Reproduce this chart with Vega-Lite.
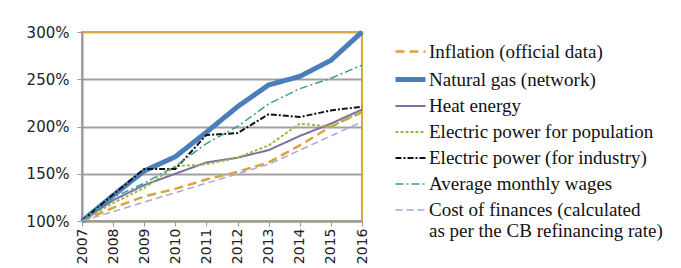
{
  "$schema": "https://vega.github.io/schema/vega-lite/v6.json",
  "width": 280,
  "height": 189,
  "autosize": {"type": "none"},
  "padding": {"left": 82, "top": 32, "right": 319, "bottom": 47},
  "background": "white",
  "config": {
    "view": {"stroke": "#D9A844", "strokeWidth": 2},
    "axis": {"labelFont": "DejaVu Sans", "labelColor": "#222"},
    "legend": {"labelFont": "Liberation Serif"}
  },
  "data": {
    "values": [
      {"year": "2007", "series": "Inflation (official data)", "v": 100},
      {"year": "2008", "series": "Inflation (official data)", "v": 114},
      {"year": "2009", "series": "Inflation (official data)", "v": 126},
      {"year": "2010", "series": "Inflation (official data)", "v": 134},
      {"year": "2011", "series": "Inflation (official data)", "v": 144},
      {"year": "2012", "series": "Inflation (official data)", "v": 152},
      {"year": "2013", "series": "Inflation (official data)", "v": 162},
      {"year": "2014", "series": "Inflation (official data)", "v": 180},
      {"year": "2015", "series": "Inflation (official data)", "v": 200},
      {"year": "2016", "series": "Inflation (official data)", "v": 215},
      {"year": "2007", "series": "Natural gas (network)", "v": 100},
      {"year": "2008", "series": "Natural gas (network)", "v": 127},
      {"year": "2009", "series": "Natural gas (network)", "v": 153},
      {"year": "2010", "series": "Natural gas (network)", "v": 168},
      {"year": "2011", "series": "Natural gas (network)", "v": 194},
      {"year": "2012", "series": "Natural gas (network)", "v": 221},
      {"year": "2013", "series": "Natural gas (network)", "v": 244},
      {"year": "2014", "series": "Natural gas (network)", "v": 253},
      {"year": "2015", "series": "Natural gas (network)", "v": 270},
      {"year": "2016", "series": "Natural gas (network)", "v": 300},
      {"year": "2007", "series": "Heat energy", "v": 100},
      {"year": "2008", "series": "Heat energy", "v": 122},
      {"year": "2009", "series": "Heat energy", "v": 138},
      {"year": "2010", "series": "Heat energy", "v": 150},
      {"year": "2011", "series": "Heat energy", "v": 162},
      {"year": "2012", "series": "Heat energy", "v": 167},
      {"year": "2013", "series": "Heat energy", "v": 175},
      {"year": "2014", "series": "Heat energy", "v": 190},
      {"year": "2015", "series": "Heat energy", "v": 203},
      {"year": "2016", "series": "Heat energy", "v": 218},
      {"year": "2007", "series": "Electric power for population", "v": 100},
      {"year": "2008", "series": "Electric power for population", "v": 119},
      {"year": "2009", "series": "Electric power for population", "v": 135},
      {"year": "2010", "series": "Electric power for population", "v": 158},
      {"year": "2011", "series": "Electric power for population", "v": 160},
      {"year": "2012", "series": "Electric power for population", "v": 167},
      {"year": "2013", "series": "Electric power for population", "v": 180},
      {"year": "2014", "series": "Electric power for population", "v": 203},
      {"year": "2015", "series": "Electric power for population", "v": 200},
      {"year": "2016", "series": "Electric power for population", "v": 216},
      {"year": "2007", "series": "Electric power (for industry)", "v": 100},
      {"year": "2008", "series": "Electric power (for industry)", "v": 128},
      {"year": "2009", "series": "Electric power (for industry)", "v": 155},
      {"year": "2010", "series": "Electric power (for industry)", "v": 155},
      {"year": "2011", "series": "Electric power (for industry)", "v": 191},
      {"year": "2012", "series": "Electric power (for industry)", "v": 193},
      {"year": "2013", "series": "Electric power (for industry)", "v": 213},
      {"year": "2014", "series": "Electric power (for industry)", "v": 210},
      {"year": "2015", "series": "Electric power (for industry)", "v": 217},
      {"year": "2016", "series": "Electric power (for industry)", "v": 221},
      {"year": "2007", "series": "Average monthly wages", "v": 100},
      {"year": "2008", "series": "Average monthly wages", "v": 125},
      {"year": "2009", "series": "Average monthly wages", "v": 140},
      {"year": "2010", "series": "Average monthly wages", "v": 158},
      {"year": "2011", "series": "Average monthly wages", "v": 182},
      {"year": "2012", "series": "Average monthly wages", "v": 200},
      {"year": "2013", "series": "Average monthly wages", "v": 224},
      {"year": "2014", "series": "Average monthly wages", "v": 240},
      {"year": "2015", "series": "Average monthly wages", "v": 251},
      {"year": "2016", "series": "Average monthly wages", "v": 265},
      {"year": "2007", "series": "Cost of finances (calculated as per the CB refinancing rate)", "v": 100},
      {"year": "2008", "series": "Cost of finances (calculated as per the CB refinancing rate)", "v": 110},
      {"year": "2009", "series": "Cost of finances (calculated as per the CB refinancing rate)", "v": 120},
      {"year": "2010", "series": "Cost of finances (calculated as per the CB refinancing rate)", "v": 130},
      {"year": "2011", "series": "Cost of finances (calculated as per the CB refinancing rate)", "v": 140},
      {"year": "2012", "series": "Cost of finances (calculated as per the CB refinancing rate)", "v": 150},
      {"year": "2013", "series": "Cost of finances (calculated as per the CB refinancing rate)", "v": 160},
      {"year": "2014", "series": "Cost of finances (calculated as per the CB refinancing rate)", "v": 175},
      {"year": "2015", "series": "Cost of finances (calculated as per the CB refinancing rate)", "v": 190},
      {"year": "2016", "series": "Cost of finances (calculated as per the CB refinancing rate)", "v": 205}
    ]
  },
  "mark": {"type": "line", "strokeCap": "butt"},
  "encoding": {
    "x": {
      "field": "year", "type": "ordinal",
      "scale": {"type": "point", "padding": 0},
      "axis": {"title": null, "labelAngle": -90, "labelFontSize": 14, "labelAlign": "right", "labelBaseline": "middle",
               "domainColor": "#999", "domainWidth": 2, "tickColor": "#999", "tickSize": 5, "labelPadding": 2}
    },
    "y": {
      "field": "v", "type": "quantitative",
      "scale": {"domain": [100, 300], "nice": false, "zero": false},
      "axis": {"title": null, "values": [100, 150, 200, 250, 300], "labelExpr": "datum.value + '%'",
               "labelFontSize": 15, "labelPadding": 8,
               "domainColor": "#999", "domainWidth": 2, "tickColor": "#999", "tickSize": 5,
               "gridColor": {"condition": {"test": "datum.value == 300", "value": "#D9A844"}, "value": "#A0A0A0"},
               "gridWidth": 2}
    },
    "color": {
      "field": "series", "type": "nominal",
      "scale": {
        "domain": ["Inflation (official data)", "Natural gas (network)", "Heat energy", "Electric power for population", "Electric power (for industry)", "Average monthly wages", "Cost of finances (calculated as per the CB refinancing rate)"],
        "range": ["#D8A540", "#4A7EBB", "#7D6FA6", "#9BBB3F", "#111111", "#3A9C98", "#ADA5DA"]
      },
      "legend": {
        "title": null, "orient": "none", "legendX": 311, "legendY": 3,
        "symbolType": "stroke", "symbolSize": 900,
        "labelFontSize": 19, "labelColor": "#111", "labelLimit": 400,
        "rowPadding": 0, "labelOffset": 1,
        "labelExpr": "datum.label == 'Cost of finances (calculated as per the CB refinancing rate)' ? ['Cost of finances (calculated', 'as per the CB refinancing rate)'] : datum.label"
      }
    },
    "strokeDash": {
      "field": "series", "type": "nominal",
      "scale": {
        "type": "ordinal",
        "domain": ["Inflation (official data)", "Natural gas (network)", "Heat energy", "Electric power for population", "Electric power (for industry)", "Average monthly wages", "Cost of finances (calculated as per the CB refinancing rate)"],
        "range": [[9, 5], [1, 0], [1, 0], [3, 2], [6, 2, 2, 2], [8, 3, 2, 3], [7, 4]]
      }
    },
    "strokeWidth": {
      "field": "series", "type": "nominal",
      "scale": {
        "type": "ordinal",
        "domain": ["Inflation (official data)", "Natural gas (network)", "Heat energy", "Electric power for population", "Electric power (for industry)", "Average monthly wages", "Cost of finances (calculated as per the CB refinancing rate)"],
        "range": [2.5, 5, 2, 2, 2, 1.5, 1.5]
      }
    }
  }
}
